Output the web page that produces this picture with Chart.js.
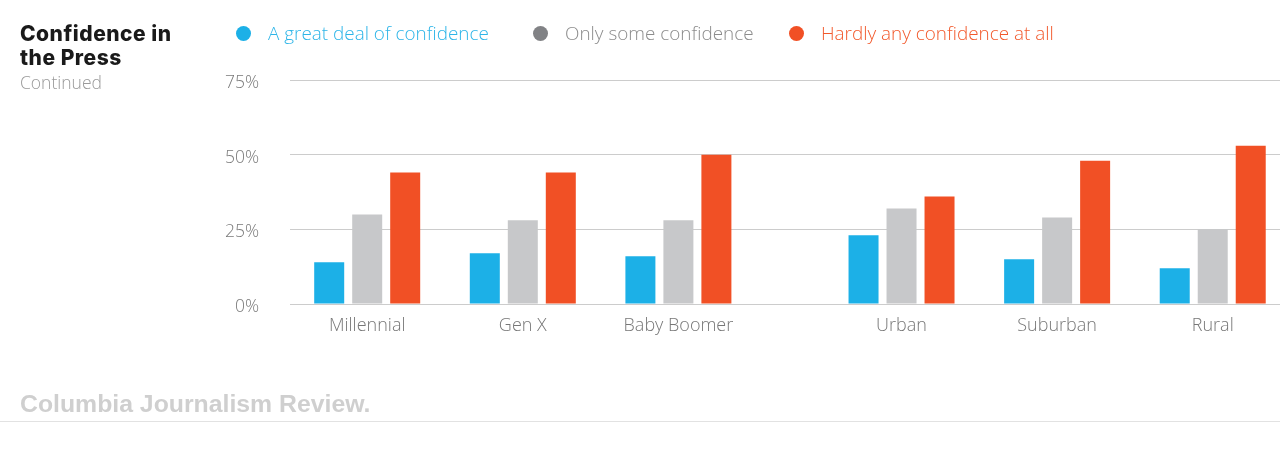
<!DOCTYPE html>
<html>
<head>
<meta charset="utf-8">
<script src="https://cdn.jsdelivr.net/npm/chart.js@4"></script>
<style>
  html, body { margin: 0; padding: 0; background: #fff; }
  #wrap { position: relative; width: 1280px; height: 454px; overflow: hidden; }
  #chartBox { position: absolute; left: 0; top: 0; width: 1280px; height: 454px; }
  #title { position: absolute; left: 20px; top: 22px; font-family: Inter, sans-serif; font-weight: 800;
           font-size: 21px; line-height: 24px; color: #1a1a1a; letter-spacing: 0.5px; }
  #subtitle { position: absolute; left: 20px; top: 72px; font-family: "Open Sans", sans-serif; font-weight: 300;
              font-size: 17.5px; line-height: 20px; color: #9a9a9a; }
  #legend { position: absolute; top: 22px; left: 0; height: 22px; font-family: "Open Sans", sans-serif; font-weight: 300; font-size: 18.9px; }
  .item { position: absolute; top: 0; white-space: nowrap; line-height: 22px; }
  .dot { position: absolute; top: 4px; width: 15px; height: 15px; border-radius: 50%; }
  .txt { position: absolute; top: 0; }
  #footer { position: absolute; left: 20px; top: 391px; font-family: "Liberation Sans", Arial, sans-serif; font-weight: 700;
            font-size: 24.8px; line-height: 25px; color: #cfcfcf; letter-spacing: 0; }
  #rule { position: absolute; left: 0; top: 421px; width: 1280px; height: 1px; background: #e2e2e2; }
</style>
</head>
<body>
<div id="wrap">
  <div id="chartBox"><canvas id="c"></canvas></div>
  <div id="title">Confidence in<br>the Press</div>
  <div id="subtitle">Continued</div>
  <div id="legend"></div>
  <div id="footer">Columbia Journalism Review.</div>
  <div id="rule"></div>
</div>
<script>
// ---- data ----
const categories = ['Millennial', 'Gen X', 'Baby Boomer', 'Urban', 'Suburban', 'Rural'];
const categoryGroup = [0, 0, 0, 1, 1, 1];
const seriesNames = ['A great deal of confidence', 'Only some confidence', 'Hardly any confidence at all'];
const greatDeal = [14, 17, 16, 23, 15, 12];
const onlySome = [30, 28, 28, 32, 29, 25];
const hardlyAny = [44, 44, 50, 36, 48, 53];
const yTickValues = [0, 25, 50, 75];

// ---- styling ----
const barColors = ['#1cb0e7', '#c7c8ca', '#f15025'];
const dotColors = ['#1cb0e7', '#818285', '#f15025'];
const legendTextColors = ['#2db5e8', '#8c8c8c', '#f2592c'];
const GROUP_GAP = 0.434;
const xPos = categories.map((_, i) => i + categoryGroup[i] * GROUP_GAP);

const seriesValues = [greatDeal, onlySome, hardlyAny];
const datasets = seriesValues.map((vals, s) => ({
  label: seriesNames[s],
  data: vals.map((v, i) => ({ x: xPos[i], y: v })),
  backgroundColor: barColors[s],
  borderWidth: 0,
  categoryPercentage: 0.7326,
  barPercentage: 0.7895
}));

// HTML legend built from series names
const legendPos = [236, 533, 789];
const legend = document.getElementById('legend');
seriesNames.forEach((name, s) => {
  const it = document.createElement('div');
  it.className = 'item';
  it.style.left = legendPos[s] + 'px';
  const d = document.createElement('div');
  d.className = 'dot';
  d.style.left = '0px';
  d.style.background = dotColors[s];
  const t = document.createElement('div');
  t.className = 'txt';
  t.style.left = '32px';
  t.style.color = legendTextColors[s];
  t.textContent = name;
  it.appendChild(d); it.appendChild(t);
  legend.appendChild(it);
});

const unitPx = 155.6;
const xMin = -(367.2 - 290) / unitPx;
const xMax = xMin + 990 / unitPx;

new Chart(document.getElementById('c'), {
  type: 'bar',
  data: { datasets },
  options: {
    responsive: true,
    maintainAspectRatio: false,
    animation: false,
    layout: { padding: { top: 80, left: 0, right: 0, bottom: 0 } },
    plugins: { legend: { display: false }, tooltip: { enabled: false } },
    scales: {
      x: {
        type: 'linear',
        offset: false,
        min: xMin,
        max: xMax,
        grid: { display: false },
        border: { display: false },
        afterBuildTicks: (scale) => { scale.ticks = xPos.map(v => ({ value: v })); },
        afterFit: (scale) => { scale.height = 150; },
        ticks: {
          autoSkip: false,
          maxRotation: 0,
          padding: 3,
          color: '#777777',
          font: { family: 'Open Sans', weight: '300', size: 18 },
          callback: (value, index) => categories[index]
        }
      },
      y: {
        min: 0,
        max: 75,
        grid: { color: '#cccccc', lineWidth: 1, drawTicks: false },
        border: { display: false },
        afterBuildTicks: (scale) => { scale.ticks = yTickValues.map(v => ({ value: v })); },
        afterFit: (scale) => { scale.width = 290; },
        ticks: {
          padding: 31,
          labelOffset: 3,
          color: '#7a7a7a',
          font: { family: 'Open Sans', weight: '300', size: 17.5 },
          callback: (v) => v + '%'
        }
      }
    }
  }
});
</script>
</body>
</html>
